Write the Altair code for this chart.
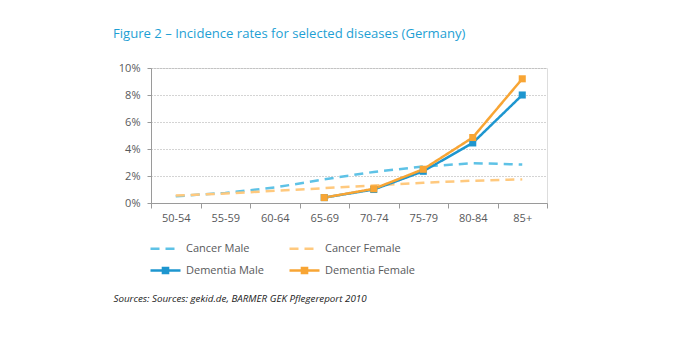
import altair as alt
import pandas as pd

categories = ["50-54", "55-59", "60-64", "65-69", "70-74", "75-79", "80-84", "85+"]
series_names = ["Cancer Male", "Dementia Male", "Cancer Female", "Dementia Female"]
cancer_male = [0.50, 0.75, 1.15, 1.75, 2.30, 2.70, 2.95, 2.85]
cancer_female = [0.55, 0.70, 0.90, 1.10, 1.30, 1.50, 1.65, 1.75]
dementia_male = [None, None, None, 0.40, 1.00, 2.35, 4.45, 8.00]
dementia_female = [None, None, None, 0.40, 1.05, 2.50, 4.85, 9.20]
colors = ["#5ec2e6", "#1e96cf", "#ffc97e", "#f8a534"]
dashes = [[9, 6], [1, 0], [9, 6], [1, 0]]

rows = []
for name, vals in zip(["Cancer Male", "Cancer Female", "Dementia Male", "Dementia Female"],
                      [cancer_male, cancer_female, dementia_male, dementia_female]):
    for cat, v in zip(categories, vals):
        if v is not None:
            rows.append({"age": cat, "series": name, "rate": v / 100.0, "kind": name.split()[0]})
df = pd.DataFrame(rows)

FONT = "Open Sans"
TXT = "#58595b"

LINE_SQUARE = "M-1,0H1M-0.17,-0.17H0.17V0.17H-0.17Z"
legend = alt.Legend(
    title=None, orient="none", legendX=-2, legendY=164, columns=2,
    symbolType=alt.ExprRef(expr="indexof(datum.value, 'Dementia') >= 0 ? '" + LINE_SQUARE + "' : 'stroke'"),
    symbolFillColor=alt.ExprRef(expr="scale('color', datum.value)"),
    symbolSize=900, symbolStrokeWidth=2.5,
    labelFont=FONT, labelFontSize=11, labelColor=TXT, columnPadding=20,
    rowPadding=-8, labelOffset=4, labelLimit=200,
)

x_enc = alt.X(
    "age:N", sort=categories, bandPosition=0.5,
    scale=alt.Scale(type="band", domain=categories, paddingInner=0, paddingOuter=0),
    axis=alt.Axis(
        title="Sources: Sources: gekid.de, BARMER GEK Pflegereport 2010",
        titleFont=FONT, titleFontStyle="italic", titleFontWeight="normal",
        titleFontSize=9.8, titleColor="#222", titleAnchor="start", titleAlign="left",
        titleX=-38, titleY=98, titleBaseline="alphabetic",
        labelAngle=0, labelFont=FONT, labelFontSize=11, labelColor=TXT, labelPadding=4,
        tickBand="extent", tickColor="#9a9a9a", tickSize=5, domainColor="#9a9a9a",
        grid=False,
    ),
)
y_enc = alt.Y(
    "rate:Q",
    scale=alt.Scale(domain=[0, 0.10], nice=False),
    axis=alt.Axis(
        title=None, format=".0%", values=[0, 0.02, 0.04, 0.06, 0.08, 0.10],
        labelFont=FONT, labelFontSize=11, labelColor=TXT, labelPadding=7,
        tickColor="#9a9a9a", tickSize=4, domainColor="#9a9a9a",
        grid=True, gridColor="#a8a8a8", gridDash=[1, 2], gridWidth=1,
    ),
)
color_enc = alt.Color(
    "series:N", sort=series_names,
    scale=alt.Scale(domain=series_names, range=colors), legend=legend,
)
dash_enc = alt.StrokeDash(
    "series:N", sort=series_names,
    scale=alt.Scale(domain=series_names, range=dashes),
    legend=legend,
)

cancer = alt.Chart(df).transform_filter(alt.datum.kind == "Cancer").mark_line(strokeWidth=2.5).encode(
    x=x_enc, y=y_enc, color=color_enc, strokeDash=dash_enc, detail="series:N"
)
dementia = alt.Chart(df).transform_filter(alt.datum.kind == "Dementia").mark_line(
    strokeWidth=2.5, point=alt.OverlayMarkDef(shape="square", size=50, filled=True, opacity=1)
).encode(
    x=x_enc, y=y_enc, color=color_enc, strokeDash=dash_enc, detail="series:N"
)

chart = alt.layer(cancer, dementia).properties(
    width=396, height=135,
    title=alt.Title(
        "Figure 2 \u2013 Incidence rates for selected diseases (Germany)",
        font=FONT, fontSize=13.1, fontWeight="normal", color="#1e9fd4",
        anchor="start", frame="group", dx=-38, offset=21,
    ),
    autosize=alt.AutoSizeParams(type="none"),
    padding={"left": 151, "top": 68, "right": 127, "bottom": 147},
).configure_view(stroke=None).configure(background="white")

chart.save("out.html", embed_options={"renderer": "svg", "actions": False})
